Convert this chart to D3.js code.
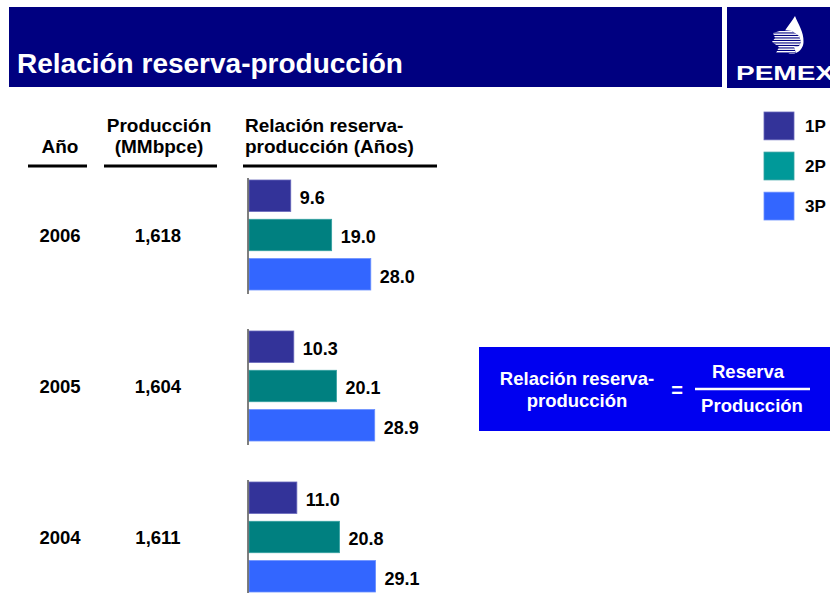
<!DOCTYPE html>
<html>
<head>
<meta charset="utf-8">
<script src="https://cdn.jsdelivr.net/npm/d3@7"></script>
<style>
  html, body { margin: 0; padding: 0; background: #ffffff; }
  svg { display: block; font-family: "Liberation Sans", Arial, Helvetica, sans-serif; }
</style>
</head>
<body>
<svg id="chart" width="830" height="593"></svg>
<script>
// Reserve-to-production ratio by year and reserve category
const years = ["2006", "2005", "2004"];
const production = [1618, 1604, 1611];          // MMbpce
const categories = ["1P", "2P", "3P"];
const ratio1P = [9.6, 10.3, 11.0];
const ratio2P = [19.0, 20.1, 20.8];
const ratio3P = [28.0, 28.9, 29.1];

const barFill   = { "1P": "#333399", "2P": "#008080", "3P": "#3366FF" };
const barEdge   = { "1P": "#6666bb", "2P": "#33a0a0", "3P": "#6a8fff" };
const legendFill = { "1P": "#333399", "2P": "#009999", "3P": "#3366FF" };

const rows = years.map((y, i) => ({
  year: y,
  prod: production[i],
  values: [
    { cat: "1P", v: ratio1P[i] },
    { cat: "2P", v: ratio2P[i] },
    { cat: "3P", v: ratio3P[i] }
  ]
}));

const svg = d3.select("#chart");
const defs = svg.append("defs");

// ---------- header banner ----------
svg.append("rect").attr("x", 9).attr("y", 7).attr("width", 713).attr("height", 80).attr("fill", "#000080");
svg.append("text").attr("x", 17).attr("y", 73)
  .attr("fill", "#ffffff").attr("font-size", 28).attr("font-weight", "bold")
  .text("Relación reserva-producción");

// logo block: drop with striped eagle head, company name below
const logo = svg.append("g");
logo.append("rect").attr("x", 727).attr("y", 7).attr("width", 103).attr("height", 81).attr("fill", "#000080");
logo.append("path")
  .attr("d", "M795,16 C798,24 804,32 803.5,42 A11.5,11.5 0 1 1 780.5,42 C781,33 790,25 795,16 Z")
  .attr("fill", "#ffffff");
const headPath = "M773,33 L783,30 L792,31 L799,36 L801,42 L799,46 L794,47 L796,53 L776,53 L779,47 L772,42 L775,38 Z";
defs.append("clipPath").attr("id", "eagleClip").append("path").attr("d", headPath);
logo.append("path").attr("d", headPath).attr("fill", "#000080");
logo.append("g").attr("clip-path", "url(#eagleClip)")
  .selectAll("rect").data(d3.range(9)).join("rect")
  .attr("x", 770).attr("y", k => 31 + k * 2.5)
  .attr("width", 34).attr("height", 1.4).attr("fill", "#ffffff");
logo.append("text").attr("x", 736).attr("y", 80)
  .attr("fill", "#ffffff").attr("font-size", 21).attr("font-weight", "bold")
  .attr("textLength", 98).attr("lengthAdjust", "spacingAndGlyphs")
  .text("PEMEX");

// ---------- column headers ----------
const headers = [
  { lines: ["Año"], cx: 60, anchor: "middle", x0: 28, x1: 87 },
  { lines: ["Producción", "(MMbpce)"], cx: 159, anchor: "middle", x0: 104, x1: 217 },
  { lines: ["Relación reserva-", "producción (Años)"], cx: 245, anchor: "start", x0: 243, x1: 437 }
];
headers.forEach(h => {
  const n = h.lines.length;
  h.lines.forEach((t, j) => {
    svg.append("text")
      .attr("x", h.cx).attr("y", 153 - (n - 1 - j) * 21)
      .attr("text-anchor", h.anchor)
      .attr("font-size", 19).attr("font-weight", "bold").attr("fill", "#000")
      .text(t);
  });
  svg.append("line").attr("x1", h.x0).attr("x2", h.x1).attr("y1", 166).attr("y2", 166)
    .attr("stroke", "#000").attr("stroke-width", 3);
});

// ---------- scales ----------
const y0 = d3.scaleBand().domain(years).range([180, 180 + 3 * 151 - 41]).paddingInner(41 / 151).paddingOuter(0);
const y1 = d3.scaleBand().domain(categories).range([0, y0.bandwidth()]).paddingInner(0.2);
const x = d3.scaleLinear().domain([0, 30]).range([249, 249 + 4.35 * 30]);
const fmtVal = d3.format(".1f");
const fmtProd = d3.format(",");

// ---------- rows ----------
const groups = svg.selectAll("g.year").data(rows).join("g")
  .attr("class", "year")
  .attr("transform", d => `translate(0,${y0(d.year)})`);

groups.append("text")
  .attr("x", 60).attr("y", y0.bandwidth() / 2)
  .attr("dy", "0.36em")
  .attr("text-anchor", "middle").attr("font-size", 18.5).attr("font-weight", "bold")
  .text(d => d.year);

groups.append("text")
  .attr("x", 158).attr("y", y0.bandwidth() / 2)
  .attr("dy", "0.36em")
  .attr("text-anchor", "middle").attr("font-size", 18.5).attr("font-weight", "bold")
  .text(d => fmtProd(d.prod));

groups.selectAll("rect.bar").data(d => d.values).join("rect")
  .attr("class", "bar")
  .attr("x", x(0))
  .attr("y", d => y1(d.cat))
  .attr("width", d => x(d.v) - x(0))
  .attr("height", y1.bandwidth())
  .attr("fill", d => barFill[d.cat])
  .attr("stroke", d => barEdge[d.cat]).attr("stroke-width", 0.8);

groups.selectAll("text.val").data(d => d.values).join("text")
  .attr("class", "val")
  .attr("x", d => x(d.v) + 9)
  .attr("y", d => y1(d.cat) + y1.bandwidth() / 2 + 2)
  .attr("dy", "0.36em")
  .attr("font-size", 18).attr("font-weight", "bold").attr("fill", "#000")
  .text(d => fmtVal(d.v));

// baseline of each bar group
groups.append("line")
  .attr("x1", x(0) - 1).attr("x2", x(0) - 1)
  .attr("y1", -2).attr("y2", y0.bandwidth() + 4)
  .attr("stroke", "#555").attr("stroke-width", 1.5);

// ---------- legend ----------
const legend = svg.append("g");
const ly = d3.scaleBand().domain(categories).range([112, 112 + 3 * 36]).paddingInner(11 / 36).paddingOuter(0);
categories.forEach(c => {
  legend.append("rect").attr("x", 764).attr("y", ly(c)).attr("width", 30).attr("height", ly.bandwidth())
    .attr("fill", legendFill[c]).attr("stroke", barEdge[c]).attr("stroke-width", 0.8);
  legend.append("text").attr("x", 805).attr("y", ly(c) + ly.bandwidth() / 2).attr("dy", "0.36em")
    .attr("font-size", 17).attr("font-weight", "bold").text(c);
});

// ---------- definition box ----------
const box = svg.append("g");
box.append("rect").attr("x", 479).attr("y", 347).attr("width", 351).attr("height", 84).attr("fill", "#0000F0");
box.append("text").attr("x", 577).attr("y", 385).attr("text-anchor", "middle")
  .attr("fill", "#fff").attr("font-size", 18.5).attr("font-weight", "bold").text("Relación reserva-");
box.append("text").attr("x", 577).attr("y", 407).attr("text-anchor", "middle")
  .attr("fill", "#fff").attr("font-size", 18.5).attr("font-weight", "bold").text("producción");
box.append("text").attr("x", 677).attr("y", 397).attr("text-anchor", "middle")
  .attr("fill", "#fff").attr("font-size", 20).attr("font-weight", "bold").text("=");
box.append("line").attr("x1", 695).attr("x2", 810).attr("y1", 389).attr("y2", 389)
  .attr("stroke", "#fff").attr("stroke-width", 2.5);
box.append("text").attr("x", 748).attr("y", 378).attr("text-anchor", "middle")
  .attr("fill", "#fff").attr("font-size", 18.5).attr("font-weight", "bold").text("Reserva");
box.append("text").attr("x", 752).attr("y", 412).attr("text-anchor", "middle")
  .attr("fill", "#fff").attr("font-size", 18.5).attr("font-weight", "bold").text("Producción");
</script>
</body>
</html>
